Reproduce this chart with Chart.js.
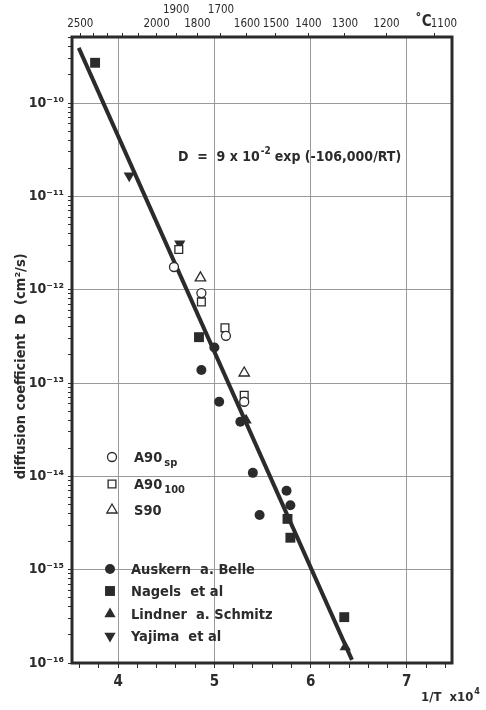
<!DOCTYPE html>
<html>
<head>
<meta charset="utf-8">
<script src="https://cdn.jsdelivr.net/npm/chart.js@4.4.0/dist/chart.umd.min.js"></script>
<style>
html,body{margin:0;padding:0;background:#fff;}
#wrap{position:relative;width:486px;height:710px;}
</style>
</head>
<body>
<div id="wrap"><canvas id="c" width="486" height="710"></canvas></div>
<script>
// values: x = 10^4/T (K), y = D in cm2/s
const a90spX = [4.58, 4.865, 5.12, 5.31];
const a90spY = [1.75e-12, 9.2e-13, 3.2e-13, 6.3e-14];
const a90_100X = [4.63, 4.865, 5.11, 5.31];
const a90_100Y = [2.7e-12, 7.4e-13, 3.9e-13, 7.4e-14];
const s90X = [4.855, 5.31];
const s90Y = [1.34e-12, 1.28e-13];
const auskernX = [4.865, 5.0, 5.05, 5.27, 5.40, 5.47, 5.75, 5.79];
const auskernY = [1.38e-13, 2.4e-13, 6.3e-14, 3.85e-14, 1.09e-14, 3.85e-15, 7.0e-15, 4.9e-15];
const nagelsX = [3.76, 4.84, 5.76, 5.79, 6.35];
const nagelsY = [2.7e-10, 3.1e-13, 3.5e-15, 2.2e-15, 3.1e-16];
const lindnerX = [5.33, 6.36];
const lindnerY = [4.0e-14, 1.48e-16];
const yajimaX = [4.115, 4.64];
const yajimaY = [1.66e-11, 3.1e-12];
// ends of the drawn fit line
const fitX = [3.59, 6.43];
const fitY = [3.9e-10, 1.08e-16];

// axes
const xMajor = [4, 5, 6, 7];
const decades = [-16, -15, -14, -13, -12, -11, -10];
const celsiusTicks = [2500, 2400, 2300, 2200, 2100, 2000, 1900, 1800, 1700, 1600, 1500, 1400, 1300, 1200, 1100];
const celsiusLabels = ['2500', '', '', '', '', '2000', '1900', '1800', '1700', '1600', '1500', '1400', '1300', '1200', '      1100'];
const raisedLabels = ['1900', '1700'];

const ink = '#2b2b2b';
const grid = '#9a9a9a';
const fam = "'Liberation Sans Narrow', 'DejaVu Sans Condensed', 'Arial Narrow', sans-serif";
const XMIN = 3.52, XMAX = 7.47, YMIN = 1e-16, YMAX = 5.1e-10;

const supMap = {'-':'\u207B','0':'\u2070','1':'\u00B9','2':'\u00B2','3':'\u00B3','4':'\u2074','5':'\u2075','6':'\u2076','7':'\u2077','8':'\u2078','9':'\u2079'};
function pow10(e){ return '10' + String(e).split('').map(c => supMap[c]).join(''); }
function pts(xs, ys){ return xs.map((x, i) => ({x: x, y: ys[i]})); }
function isDecade(v){ return Math.abs(Math.log10(v) - Math.round(Math.log10(v))) < 1e-6; }

function pointSet(label, xs, ys, style, r, filled, rot){
  return {
    label: label, data: pts(xs, ys), showLine: false,
    pointStyle: style, pointRadius: r, pointHoverRadius: r, pointRotation: rot || 0,
    pointBackgroundColor: filled ? ink : '#fff',
    pointBorderColor: ink, pointBorderWidth: filled ? 0 : 1.3
  };
}

const series = [
  pointSet('A90sp', a90spX, a90spY, 'circle', 4.5, false),
  pointSet('A90100', a90_100X, a90_100Y, 'rect', 5.5, false),
  pointSet('S90', s90X, s90Y, 'triangle', 6, false),
  pointSet('Auskern a. Belle', auskernX, auskernY, 'circle', 5, true),
  pointSet('Nagels et al', nagelsX, nagelsY, 'rect', 7, true),
  pointSet('Lindner a. Schmitz', lindnerX, lindnerY, 'triangle', 6.5, true),
  pointSet('Yajima et al', yajimaX, yajimaY, 'triangle', 6.5, true, 180),
  {label: 'fit', data: pts(fitX, fitY), showLine: true, borderColor: ink, borderWidth: 4, pointRadius: 0, fill: false}
];

// legend rows: dataset index, y position, main text, subscript
const legendRows = [
  [0, 457, 'A90', 'sp'], [1, 484, 'A90', '100'], [2, 510, 'S90', ''],
  [3, 569, 'Auskern  a. Belle', ''], [4, 591, 'Nagels  et al', ''],
  [5, 614, 'Lindner  a. Schmitz', ''], [6, 636, 'Yajima  et al', '']
];

const extras = {
  id: 'extras',
  afterDatasetsDraw(chart){
    const {ctx, chartArea: a} = chart;
    ctx.save();
    ctx.strokeStyle = ink;
    ctx.lineWidth = 3;
    ctx.strokeRect(a.left, a.top, a.right - a.left, a.bottom - a.top);

    ctx.fillStyle = ink;
    ctx.textBaseline = 'alphabetic';
    // equation
    let x = 178, y = 161;
    ctx.font = 'bold 14px ' + fam;
    let s = 'D  =  9 x 10';
    ctx.fillText(s, x, y); x += ctx.measureText(s).width + 1;
    ctx.font = 'bold 10px ' + fam;
    ctx.fillText('-2', x, y - 7); x += ctx.measureText('-2').width + 4;
    ctx.font = 'bold 14px ' + fam;
    ctx.fillText('exp (-106,000/RT)', x, y);

    // legend
    legendRows.forEach(r => {
      const ds = chart.data.datasets[r[0]];
      const filled = ds.pointBorderWidth === 0;
      const mx = filled ? 110 : 112;
      ctx.fillStyle = filled ? ink : '#fff';
      ctx.strokeStyle = ink;
      ctx.lineWidth = 1.3;
      Chart.helpers.drawPoint(ctx, {pointStyle: ds.pointStyle, radius: ds.pointRadius, rotation: ds.pointRotation, borderWidth: filled ? 0 : 1.3}, mx, r[1]);
      ctx.fillStyle = ink;
      ctx.font = 'bold 14.5px ' + fam;
      const tx = filled ? 131 : 134;
      ctx.fillText(r[2], tx, r[1] + 5);
      if (r[3]) {
        const w = ctx.measureText(r[2]).width;
        ctx.font = 'bold 11px ' + fam;
        ctx.fillText(r[3], tx + w + 2, r[1] + 9);
      }
    });

    // bottom axis title
    ctx.font = 'bold 13px ' + fam;
    ctx.fillText('1/T  x10', 421, 701);
    const w2 = ctx.measureText('1/T  x10').width;
    ctx.font = 'bold 9px ' + fam;
    ctx.fillText('4', 421 + w2 + 1, 694);

    // degree sign
    ctx.font = 'bold 15px ' + fam;
    ctx.fillText('\u02DAC', 415, 26);
    ctx.restore();
  }
};

new Chart(document.getElementById('c'), {
  type: 'scatter',
  data: {datasets: series},
  options: {
    responsive: false,
    animation: false,
    layout: {padding: {left: 0, right: 34, top: 0, bottom: 0}},
    plugins: {legend: {display: false}, tooltip: {enabled: false}},
    scales: {
      x: {
        type: 'linear', position: 'bottom', min: XMIN, max: XMAX,
        afterBuildTicks(scale){
          const t = [];
          for (let v = 3.6; v < XMAX; v += 0.2) t.push({value: Math.round(v * 10) / 10});
          scale.ticks = t;
        },
        afterFit(scale){ scale.height = 47; },
        border: {display: false},
        grid: {
          color: c => xMajor.includes(c.tick.value) ? grid : 'rgba(0,0,0,0)',
          tickColor: ink, tickLength: 5, lineWidth: 1
        },
        ticks: {
          color: ink, padding: 5, maxRotation: 0, autoSkip: false,
          font: {family: fam, size: 15, weight: 'bold'},
          callback: v => xMajor.includes(v) ? String(v) : ''
        }
      },
      x2: {
        type: 'linear', position: 'top', min: XMIN, max: XMAX,
        afterBuildTicks(scale){
          scale.ticks = celsiusTicks.map(c => ({value: 1e4 / (c + 273)}));
        },
        afterFit(scale){ scale.height = 37; },
        border: {display: false},
        grid: {drawOnChartArea: false, tickColor: ink, tickLength: 4},
        ticks: {
          color: ink, padding: 2, maxRotation: 0, autoSkip: false,
          font: {family: fam, size: 11.5},
          callback: (v, i) => {
            const l = celsiusLabels[i];
            return raisedLabels.includes(l) ? [l, ''] : l;
          }
        }
      },
      y: {
        type: 'logarithmic', position: 'left', min: YMIN, max: YMAX,
        afterBuildTicks(scale){
          const t = [];
          decades.forEach(e => {
            for (let m = 1; m <= 9; m++) {
              const v = m * Math.pow(10, e);
              if (v <= YMAX * 1.0001) t.push({value: v});
            }
          });
          scale.ticks = t;
        },
        afterFit(scale){ scale.width = 72; },
        border: {display: false},
        grid: {
          color: c => isDecade(c.tick.value) ? grid : 'rgba(0,0,0,0)',
          tickColor: ink, tickLength: 4, lineWidth: 1
        },
        ticks: {
          color: ink, padding: 4, autoSkip: false,
          font: {family: fam, size: 14, weight: 'bold'},
          callback: v => isDecade(v) ? pow10(Math.round(Math.log10(v))) : ''
        },
        title: {
          display: true, text: 'diffusion coefficient  D  (cm\u00B2/s)\u2003\u2003\u2002', color: ink,
          font: {family: fam, size: 14.5, weight: 'bold'}, padding: {top: 13, bottom: 0}
        }
      }
    }
  },
  plugins: [extras]
});
</script>
</body>
</html>
